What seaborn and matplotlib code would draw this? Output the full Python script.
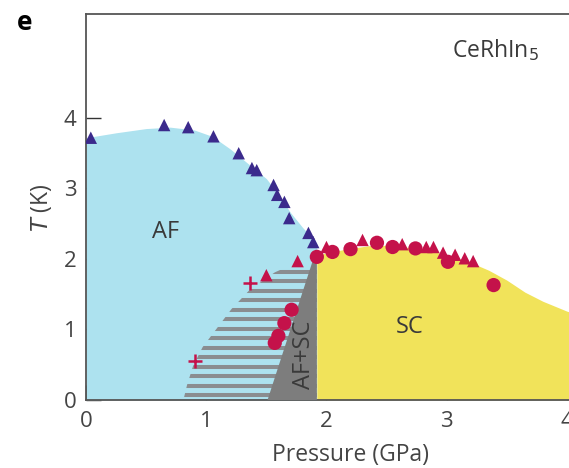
import numpy as np
import pandas as pd
import matplotlib
matplotlib.use("Agg")
import matplotlib.pyplot as plt
from matplotlib.patches import Polygon
import seaborn as sns

# --- phase boundaries (pressure in GPa, temperature in K) ---
af_p = [0.00, 0.25, 0.50, 0.70, 0.90, 1.05, 1.20, 1.35, 1.50, 1.60, 1.70, 1.80, 1.88, 1.92]
af_t = [3.72, 3.79, 3.85, 3.87, 3.83, 3.74, 3.56, 3.35, 3.14, 2.92, 2.66, 2.45, 2.30, 2.22]

sc_p = [1.92, 2.00, 2.20, 2.40, 2.60, 2.80, 3.00, 3.20, 3.35, 3.50, 3.65, 3.80, 4.00, 4.30]
sc_t = [2.05, 2.09, 2.15, 2.20, 2.18, 2.14, 2.06, 1.95, 1.84, 1.70, 1.53, 1.40, 1.26, 1.10]

# left edge of the striped (inhomogeneous) AF+SC region
mix_p = [0.81, 0.84, 0.89, 0.97, 1.09, 1.21, 1.36, 1.57, 1.75, 1.90, 1.92, 1.92]
mix_t = [0.00, 0.21, 0.48, 0.75, 1.02, 1.29, 1.56, 1.81, 1.95, 2.02, 2.02, 0.00]

# solid AF+SC wedge
wedge_p = [1.51, 1.90, 1.92, 1.92]
wedge_t = [0.00, 2.05, 2.05, 0.00]

# --- measured transition points ---
tn_p = [0.04, 0.65, 0.85, 1.06, 1.27, 1.38, 1.42, 1.56, 1.59, 1.65, 1.69, 1.85, 1.89]
tn_t = [3.72, 3.90, 3.87, 3.74, 3.50, 3.29, 3.26, 3.05, 2.91, 2.81, 2.58, 2.37, 2.24]

tri_p = [1.50, 1.76, 2.00, 2.30, 2.63, 2.83, 2.89, 2.97, 3.07, 3.15, 3.22]
tri_t = [1.77, 1.97, 2.17, 2.27, 2.21, 2.17, 2.17, 2.09, 2.06, 2.01, 1.97]

circ_p = [1.92, 2.05, 2.20, 2.42, 2.55, 2.74, 3.01, 3.39, 1.71, 1.65, 1.60, 1.57]
circ_t = [2.03, 2.10, 2.14, 2.23, 2.17, 2.15, 1.96, 1.63, 1.28, 1.09, 0.91, 0.81]

plus_p = [1.36, 0.91]
plus_t = [1.66, 0.55]

x_ticks = [0, 1, 2, 3, 4]
y_ticks = [0, 1, 2, 3, 4]

BLUE = "#ade2ef"
YELLOW = "#f1e35a"
GRAY = "#7d7d7d"
STRIPE = "#8a8d90"
INDIGO = "#3b2a8c"
CRIMSON = "#c4124a"
TEXT = "#3a3a3a"

sns.set_style("ticks")
plt.rcParams["font.family"] = ["Open Sans", "DejaVu Sans"]

fig = plt.figure(figsize=(5.69, 4.68), dpi=100)
ax = fig.add_axes([86 / 569, 68 / 468, 517 / 569, 386 / 468])
ax.set_xlim(0, 4.3)
ax.set_ylim(0, 5.475)

# phase regions
ax.fill_between(af_p, af_t, 0, color=BLUE, lw=0, zorder=1)
ax.fill_between(sc_p, sc_t, 0, color=YELLOW, lw=0, zorder=1)

mix = Polygon(np.column_stack([mix_p, mix_t]), closed=True, facecolor="none",
              edgecolor="none")
ax.add_patch(mix)
levels = np.arange(0.07, 1.9, 0.1345)
stripes = ax.hlines(levels, 0.7, 1.95, colors=STRIPE, lw=2.9, zorder=2)
stripes.set_clip_path(mix)

ax.fill(wedge_p, wedge_t, color=GRAY, lw=0, zorder=3)

# data points
sns.scatterplot(x=tn_p, y=tn_t, ax=ax, marker="^", s=80, color=INDIGO,
                edgecolor="none", zorder=5)
sns.scatterplot(x=tri_p, y=tri_t, ax=ax, marker="^", s=80, color=CRIMSON,
                edgecolor="none", zorder=5)
sns.scatterplot(x=circ_p, y=circ_t, ax=ax, marker="o", s=105, color=CRIMSON,
                edgecolor="none", zorder=5)
sns.scatterplot(x=plus_p, y=plus_t, ax=ax, marker="+", s=90, color=CRIMSON,
                linewidth=1.8, zorder=5)

# region labels
ax.text(0.66, 2.38, "AF", fontsize=17, color=TEXT, ha="center", va="center", zorder=6)
ax.text(2.69, 1.03, "SC", fontsize=17, color=TEXT, ha="center", va="center", zorder=6)
ax.text(1.81, 0.64, "AF+SC", fontsize=17, color=TEXT, ha="center", va="center",
        rotation=90, zorder=6)
ax.text(3.04, 4.96, "CeRhIn$_5$", fontsize=16.5, color=TEXT, ha="left",
        va="center", zorder=6)
fig.text(25 / 569, 1 - 22 / 468, "e", fontsize=19, fontweight="bold",
         color="black", ha="center", va="center")

# axes styling
for side in ["left", "bottom", "top"]:
    ax.spines[side].set_color("#555555")
    ax.spines[side].set_linewidth(1.3)
ax.spines["right"].set_visible(False)
ax.set_xticks(x_ticks)
ax.set_yticks(y_ticks)
ax.tick_params(direction="in", length=11, width=1.0, color="#333333",
               labelsize=16, labelcolor="#444444")
ax.tick_params(axis="x", pad=8)
ax.tick_params(axis="y", pad=7)
ax.set_xlabel("Pressure (GPa)", fontsize=16.5, color="#444444")
ax.set_ylabel("$T$ (K)", fontsize=16.5, color="#444444")
ax.xaxis.set_label_coords((350 - 86) / 517, -0.112)
ax.yaxis.set_label_coords(-(86 - 54) / 517, (400 - 208) / 386)

fig.savefig("out.png", dpi=100)
